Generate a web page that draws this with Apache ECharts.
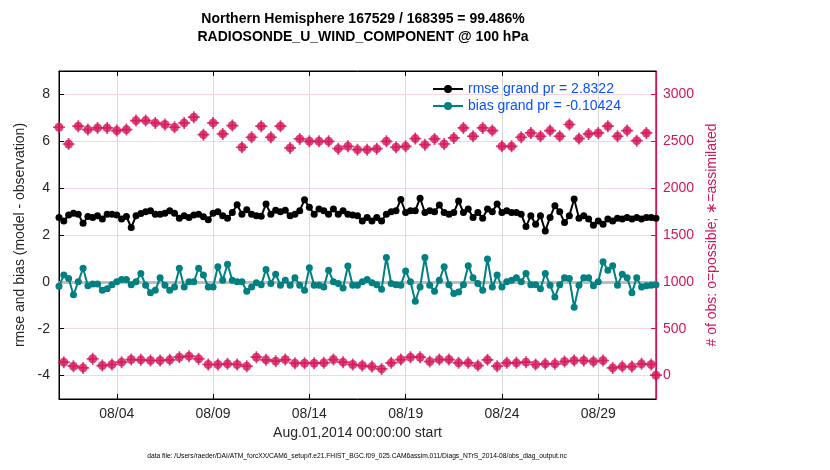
<!DOCTYPE html>
<html>
<head>
<meta charset="utf-8">
<script src="https://cdn.jsdelivr.net/npm/echarts@6/dist/echarts.min.js"></script>
<style>
  html, body { margin: 0; background: #fff; }
  #chart { width: 830px; height: 470px; }
</style>
</head>
<body>
<div id="chart"></div>
<script>
// 6-hourly bins, Aug 1 2014 00Z .. Sep 1 2014 00Z
const startTime = Date.UTC(2014, 7, 1);
const endTime = Date.UTC(2014, 8, 1);
const stepMs = 6 * 3600 * 1000;

const rmse = [
  2.75, 2.60, 2.85, 2.93, 2.89, 2.50, 2.79, 2.75, 2.82, 2.68,
  2.89, 2.89, 2.85, 2.68, 2.79, 2.32, 2.82, 2.92, 2.99, 3.04,
  2.89, 2.89, 2.93, 3.04, 2.93, 2.72, 2.82, 2.75, 2.85, 2.89,
  2.78, 2.65, 2.93, 2.99, 2.82, 2.72, 2.96, 3.29, 2.89, 3.08,
  2.89, 2.82, 2.80, 3.32, 2.89, 3.06, 2.99, 3.06, 2.82, 2.89,
  3.04, 3.50, 3.18, 2.89, 3.11, 3.04, 2.89, 3.11, 2.89, 3.04,
  2.89, 2.85, 2.82, 2.60, 2.75, 2.60, 2.75, 2.60, 2.89, 2.99,
  3.04, 3.51, 2.96, 3.04, 3.04, 3.57, 2.96, 3.04, 2.99, 3.28,
  2.96, 2.89, 2.96, 3.45, 2.96, 3.11, 2.75, 2.96, 2.72, 3.11,
  2.99, 3.32, 2.96, 3.04, 2.96, 2.96, 2.89, 2.36, 2.82, 2.46,
  2.82, 2.17, 2.75, 3.25, 2.99, 2.53, 2.82, 3.54, 2.72, 2.82,
  2.68, 2.42, 2.60, 2.46, 2.68, 2.60, 2.72, 2.68, 2.75, 2.68,
  2.75, 2.68, 2.75, 2.75, 2.71
];

const bias = [
  -0.19, 0.29, 0.14, -0.55, 0.00, 0.58, -0.17, -0.09, -0.09, -0.36,
  -0.29, -0.12, 0.00, 0.10, 0.10, -0.12, 0.00, 0.36, -0.14, -0.46,
  -0.36, 0.17, -0.14, -0.36, -0.22, 0.58, -0.22, 0.00, 0.00, 0.58,
  0.29, -0.22, -0.22, 0.65, 0.07, 0.75, 0.07, 0.00, 0.00, -0.40,
  -0.22, -0.04, -0.12, 0.53, -0.07, 0.33, -0.14, 0.07, -0.14, 0.17,
  -0.14, -0.36, 0.60, -0.14, -0.14, -0.22, 0.50, 0.00, -0.07, -0.26,
  0.68, -0.14, -0.14, 0.00, 0.10, -0.04, -0.12, -0.32, 1.04, -0.07,
  -0.12, -0.14, 0.46, 0.00, -0.83, -0.22, 1.04, -0.14, -0.40, 0.07,
  0.65, -0.12, -0.50, -0.43, -0.12, 0.69, 0.17, -0.07, -0.36, 0.98,
  -0.22, 0.29, -0.22, 0.00, 0.07, 0.17, 0.00, 0.36, -0.12, -0.12,
  -0.29, 0.36, -0.14, -0.65, -0.12, 0.17, 0.14, -1.08, -0.14, 0.17,
  0.17, -0.17, 0.00, 0.86, 0.50, 0.69, -0.14, 0.32, 0.17, -0.46,
  0.17, -0.22, -0.17, -0.14, -0.12
];

// # of obs per bin (00Z/12Z bins are high, 06Z/18Z bins low)
const obsCount = [
  2650, 143, 2471, 100, 2661, 82, 2625, 179, 2643, 107,
  2643, 118, 2614, 143, 2625, 171, 2721, 168, 2721, 161,
  2696, 161, 2679, 168, 2650, 196, 2696, 207, 2757, 179,
  2571, 118, 2696, 118, 2579, 125, 2668, 118, 2436, 100,
  2543, 196, 2661, 168, 2543, 154, 2661, 171, 2429, 132,
  2525, 132, 2500, 132, 2500, 136, 2500, 171, 2421, 143,
  2446, 118, 2411, 107, 2411, 96, 2421, 71, 2500, 136,
  2436, 171, 2446, 196, 2529, 196, 2464, 150, 2525, 171,
  2471, 171, 2536, 136, 2643, 136, 2554, 107, 2643, 168,
  2614, 100, 2446, 136, 2446, 136, 2543, 143, 2589, 118,
  2554, 125, 2614, 125, 2554, 150, 2679, 161, 2529, 161,
  2579, 150, 2589, 161, 2661, 82, 2554, 96, 2614, 96,
  2507, 125, 2589, 118, 4
];

const dateTicks = ['2014-08-04', '2014-08-09', '2014-08-14', '2014-08-19', '2014-08-24', '2014-08-29'];
const leftTicks = [-4, -2, 0, 2, 4, 6, 8];
const rightTicks = [0, 500, 1000, 1500, 2000, 2500, 3000];

const rmseName = 'rmse grand pr = 2.8322';
const biasName = 'bias grand pr = -0.10424';

const pink = '#d4145a';
const teal = '#008080';
const textCol = '#262626';
const font = 'Liberation Sans, Arial, sans-serif';

const tickMs = dateTicks.map(d => Date.parse(d + 'T00:00:00Z'));
const withTime = arr => arr.map((v, i) => [startTime + i * stepMs, v]);

const fmtDate = v => {
  const d = new Date(v);
  const mm = String(d.getUTCMonth() + 1).padStart(2, '0');
  const dd = String(d.getUTCDate()).padStart(2, '0');
  return mm + '/' + dd;
};

const chart = echarts.init(document.getElementById('chart'), null, { renderer: 'canvas' });

chart.setOption({
  animation: false,
  backgroundColor: '#fff',
  textStyle: { fontFamily: font },
  title: {
    text: 'Northern Hemisphere 167529 / 168395 = 99.486%\nRADIOSONDE_U_WIND_COMPONENT @ 100 hPa',
    left: 358,
    top: 5,
    textAlign: 'center',
    textStyle: { fontSize: 14, fontWeight: 'bold', color: '#000', lineHeight: 18, fontFamily: font }
  },
  legend: {
    data: [rmseName, biasName],
    orient: 'vertical',
    left: 427,
    top: 77,
    itemWidth: 30,
    itemHeight: 10,
    itemGap: 3,
    textStyle: { fontSize: 14, color: '#0a50ff', fontFamily: font }
  },
  grid: {
    left: 59, right: 174, top: 71, bottom: 71, containLabel: false,
    show: true, borderColor: '#000', borderWidth: 1, backgroundColor: 'transparent'
  },
  xAxis: [
    {
      type: 'value',
      min: startTime,
      max: endTime,
      position: 'bottom',
      name: 'Aug.01,2014 00:00:00 start',
      nameLocation: 'middle',
      nameGap: 27,
      nameTextStyle: { fontSize: 14, color: textCol, fontFamily: font },
      axisLine: { onZero: false, lineStyle: { color: '#000', width: 1 } },
      axisTick: { inside: true, length: 5, customValues: tickMs, lineStyle: { color: '#000' } },
      axisLabel: { customValues: tickMs, formatter: fmtDate, fontSize: 14, color: textCol, margin: 8, fontFamily: font },
      splitLine: { show: true, lineStyle: { color: '#d9d9d9', width: 1 } }
    },
    {
      type: 'value',
      min: startTime,
      max: endTime,
      position: 'top',
      axisLine: { show: true, onZero: false, lineStyle: { color: '#000', width: 1 } },
      axisTick: { show: true, inside: true, length: 5, customValues: tickMs, lineStyle: { color: '#000' } },
      axisLabel: { show: false },
      splitLine: { show: false }
    }
  ],
  yAxis: [
    {
      type: 'value',
      min: -5,
      max: 9,
      position: 'left',
      name: 'rmse and bias (model - observation)',
      nameLocation: 'middle',
      nameGap: 28,
      nameTextStyle: { fontSize: 14, color: textCol, fontFamily: font },
      axisLine: { show: true, onZero: false, lineStyle: { color: '#000', width: 1 } },
      axisTick: { show: true, inside: true, length: 5, customValues: leftTicks, lineStyle: { color: '#000' } },
      axisLabel: { customValues: leftTicks, fontSize: 14, color: textCol, margin: 9, fontFamily: font },
      splitLine: { show: false }
    },
    {
      type: 'value',
      min: -250,
      max: 3250,
      position: 'right',
      name: '# of obs: o=possible; \u2217=assimilated',
      nameLocation: 'middle',
      nameGap: 48,
      nameRotate: 90,
      nameTextStyle: { fontSize: 14, color: pink, fontFamily: font },
      axisLine: { show: true, onZero: false, lineStyle: { color: pink, width: 1.2 } },
      axisTick: { show: true, inside: true, length: 5, customValues: rightTicks, lineStyle: { color: pink } },
      axisLabel: { customValues: rightTicks, formatter: v => String(v), fontSize: 14, color: pink, margin: 7, fontFamily: font },
      splitLine: { show: true, lineStyle: { color: 'rgba(212,20,90,0.18)', width: 1 } }
    }
  ],
  graphic: [
    {
      type: 'text',
      x: 357,
      y: 453,
      style: {
        text: 'data file: /Users/raeder/DAI/ATM_forcXX/CAM6_setup/f.e21.FHIST_BGC.f09_025.CAM6assim.011/Diags_NTrS_2014-08/obs_diag_output.nc',
        fontSize: 6.7,
        fill: '#000',
        align: 'center',
        fontFamily: font
      }
    }
  ],
  series: [
    {
      name: 'possible',
      type: 'scatter',
      xAxisIndex: 0,
      yAxisIndex: 1,
      data: withTime(obsCount),
      symbol: 'circle',
      symbolSize: 9,
      itemStyle: { color: pink },
      z: 3
    },
    {
      name: 'assimilated',
      type: 'scatter',
      xAxisIndex: 0,
      yAxisIndex: 1,
      data: withTime(obsCount),
      symbol: 'path://M-0.7,-5H0.7V-0.7H5V0.7H0.7V5H-0.7V0.7H-5V-0.7H-0.7Z',
      symbolSize: 12,
      itemStyle: { color: pink },
      z: 3
    },
    {
      name: biasName,
      type: 'line',
      xAxisIndex: 0,
      yAxisIndex: 0,
      data: withTime(bias),
      symbol: 'circle',
      symbolSize: 7,
      showAllSymbol: true,
      lineStyle: { color: teal, width: 2 },
      itemStyle: { color: teal },
      z: 4,
      markLine: {
        silent: true,
        symbol: 'none',
        label: { show: false },
        lineStyle: { color: '#bdbdbd', width: 3, type: 'solid' },
        data: [{ yAxis: 0 }],
        z: 2
      }
    },
    {
      name: rmseName,
      type: 'line',
      xAxisIndex: 0,
      yAxisIndex: 0,
      data: withTime(rmse),
      symbol: 'circle',
      symbolSize: 7,
      showAllSymbol: true,
      lineStyle: { color: '#000', width: 2 },
      itemStyle: { color: '#000' },
      z: 4
    }
  ]
});
</script>
</body>
</html>
